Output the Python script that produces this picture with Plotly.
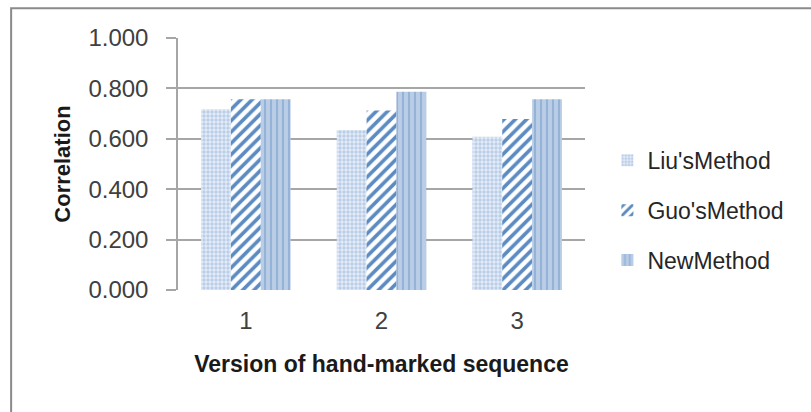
import plotly.graph_objects as go

# Correlation scores per version of the hand-marked sequence
versions = ["1", "2", "3"]
liu_method = [0.717, 0.635, 0.608]
guo_method = [0.757, 0.712, 0.679]
new_method = [0.757, 0.787, 0.757]
y_ticks = [0.0, 0.2, 0.4, 0.6, 0.8, 1.0]
y_tick_text = [f"{v:.3f}" for v in y_ticks]

FONT = "Liberation Sans, Arial, sans-serif"

series = [
    ("Liu'sMethod", liu_method,
     dict(shape=".", fgcolor="#97B4DC", bgcolor="#E6EDF7", size=4, solidity=0.55, fgopacity=0.55)),
    ("Guo'sMethod", guo_method,
     dict(shape="/", fgcolor="#4A7EBB", bgcolor="#FFFFFF", size=8, solidity=0.45, fgopacity=0.9)),
    ("NewMethod", new_method,
     dict(shape="|", fgcolor="#7C9FCD", bgcolor="#BACDE6", size=6, solidity=0.35, fgopacity=0.6)),
]

fig = go.Figure()
for i, (name, vals, pattern) in enumerate(series):
    fig.add_trace(go.Bar(
        x=versions, y=vals, name=name,
        legendgroup=f"g{i}",
        marker=dict(color=pattern["bgcolor"], opacity=1, line=dict(width=0), pattern=pattern),
    ))

# Outer frame around the whole chart
fig.add_shape(type="rect", xref="paper", yref="paper",
              x0=-0.41, x1=1.7, y0=-0.7, y1=1.118,
              line=dict(color="#8A8A8A", width=2), layer="below")

fig.update_layout(
    width=811, height=412,
    margin=dict(l=178, r=226, t=38, b=122),
    paper_bgcolor="white", plot_bgcolor="white",
    barmode="group", bargap=0.34, bargroupgap=0,
    font=dict(family=FONT, size=24, color="#404040"),
    showlegend=True,
    legend=dict(x=1.055, xanchor="left", y=0.60, yanchor="top",
                tracegroupgap=17, itemwidth=30,
                font=dict(family=FONT, size=23, color="#262626"),
                bgcolor="rgba(0,0,0,0)"),
    xaxis=dict(
        type="category", showgrid=False, ticks="",
        showline=False, zeroline=False,
        ticklabelstandoff=14,
        tickfont=dict(family=FONT, size=24, color="#404040"),
        title=dict(text="Version of hand-marked sequence", standoff=22,
                   font=dict(family=FONT, size=23, color="#1A1A1A", weight="bold")),
    ),
    yaxis=dict(
        range=[0, 1.0], tickvals=y_ticks, ticktext=y_tick_text,
        showgrid=True, gridcolor="#A6A6A6", gridwidth=1.5,
        showline=True, linecolor="#A6A6A6", linewidth=1.5,
        ticks="outside", ticklen=10, tickcolor="#A6A6A6", tickwidth=1.5,
        ticklabelstandoff=13, zeroline=False,
        tickfont=dict(family=FONT, size=24, color="#404040"),
        title=dict(text="Correlation", standoff=12,
                   font=dict(family=FONT, size=22, color="#1A1A1A", weight="bold")),
    ),
)

fig.write_html("out.html")
